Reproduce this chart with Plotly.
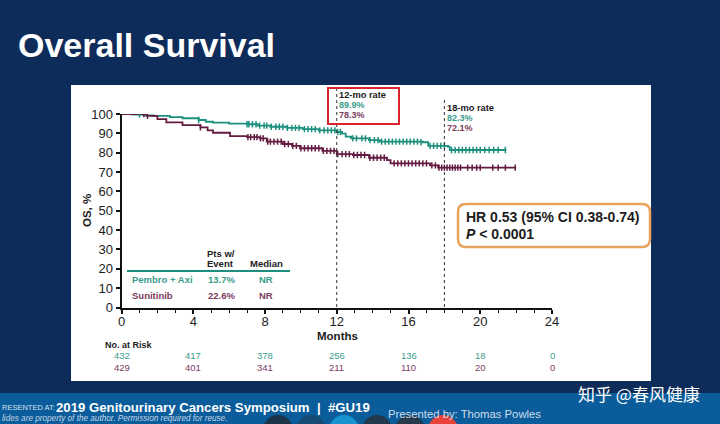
import plotly.graph_objects as go

W, H = 720, 424

# Kaplan-Meier steps
months_axi = [0, 0.6, 1.2, 1.8, 2.7, 3.4, 4.3, 4.7, 5.1, 6, 7, 7.6, 8.3, 9.2, 10.1, 11, 12, 12.3, 12.5, 12.8, 13.8, 14.4, 16.8, 17.1, 18.2, 18.3, 21.45]
os_axi = [100, 99.7, 99.3, 99, 98.4, 97.8, 96.9, 96, 95.5, 95, 94.7, 94, 93.4, 92.8, 92.2, 91.5, 90.7, 89.9, 88.3, 87.4, 86.5, 85.7, 85.4, 83.5, 83.1, 81.4, 81.4]
months_sun = [0, 1.4, 2, 2.5, 3.4, 4.4, 4.8, 5.1, 6.05, 7, 7.7, 8.1, 9, 9.5, 9.95, 11.2, 12, 12.9, 13.8, 14.8, 15, 17.2, 17.65, 22]
os_sun = [100, 99, 97.3, 95.7, 94.3, 93.1, 91.5, 90.3, 88.6, 88.1, 87.4, 85.7, 84.5, 83.5, 82.3, 80.9, 79.3, 78.8, 77.4, 76.2, 74.5, 73.5, 72.3, 72.3]

# censor ticks
cens_x_axi = [1.0, 4.3, 7.0, 7.1, 7.3, 7.5, 7.7, 7.95, 8.1, 8.35, 8.6, 8.8, 9.0, 9.25, 9.5, 9.7, 9.9, 10.2, 10.4, 10.6, 10.8, 11.05, 11.3, 11.5, 11.7, 11.9, 12.05, 12.2,
              12.9, 13.1, 13.4, 13.6, 13.85, 14.1, 14.3, 14.5, 14.7, 14.9, 15.1, 15.3, 15.5, 15.7, 15.9, 16.1, 16.3, 16.5, 16.7,
              17.2, 17.4, 17.6, 17.8, 18.0, 18.4, 18.6, 18.8, 19.0, 19.2, 19.4, 19.6, 19.8, 20.0, 20.25, 20.5, 20.75, 21.0, 21.4]
cens_y_axi = [99.7, 96.9, 94.7, 94.7, 94.7, 94.7, 94, 94, 94, 93.4, 93.4, 93.4, 93.4, 92.8, 92.8, 92.8, 92.8, 92.2, 92.2, 92.2, 92.2, 91.5, 91.5, 91.5, 91.5, 91.5, 90.7, 90.7,
              87.4, 87.4, 87.4, 87.4, 86.5, 86.5, 86.5, 85.7, 85.7, 85.7, 85.7, 85.7, 85.7, 85.7, 85.7, 85.7, 85.7, 85.7, 85.4,
              83.5, 83.5, 83.5, 83.5, 83.5, 81.4, 81.4, 81.4, 81.4, 81.4, 81.4, 81.4, 81.4, 81.4, 81.4, 81.4, 81.4, 81.4, 81.4]
cens_x_sun = [1.25, 1.45, 4.4, 7.05, 7.2, 7.4, 7.55, 7.75, 7.9, 8.15, 8.3, 8.5, 8.7, 8.9, 9.1, 9.3, 9.55, 9.75, 10.0, 10.2, 10.4, 10.6, 10.8, 11.0, 11.25, 11.45, 11.65, 11.85,
              12.05, 12.3, 12.5, 12.7, 12.95, 13.15, 13.35, 13.55, 13.85, 14.05, 14.25, 14.45, 14.65, 15.2, 15.4, 15.6, 15.8, 16.0, 16.2, 16.4, 16.6, 16.8, 17.0,
              17.3, 17.5, 17.7, 17.85, 18.0, 18.15, 18.3, 18.45, 18.6, 18.75, 18.9, 19.3, 19.55, 19.8, 20.0, 20.7, 21.0, 21.4, 21.95]
cens_y_sun = [100, 99, 93.1, 88.1, 88.1, 88.1, 88.1, 87.4, 87.4, 85.7, 85.7, 85.7, 85.7, 85.7, 84.5, 84.5, 83.5, 83.5, 82.3, 82.3, 82.3, 82.3, 82.3, 82.3, 80.9, 80.9, 80.9, 80.9,
              79.3, 79.3, 79.3, 79.3, 78.8, 78.8, 78.8, 78.8, 77.4, 77.4, 77.4, 77.4, 77.4, 74.5, 74.5, 74.5, 74.5, 74.5, 74.5, 74.5, 74.5, 74.5, 74.5,
              73.5, 73.5, 72.3, 72.3, 72.3, 72.3, 72.3, 72.3, 72.3, 72.3, 72.3, 72.3, 72.3, 72.3, 72.3, 72.3, 72.3, 72.3, 72.3]

risk_months = [0, 4, 8, 12, 16, 20, 24]
risk_axi = [432, 417, 378, 256, 136, 18, 0]
risk_sun = [429, 401, 341, 211, 110, 20, 0]

NAVY = "#0e2c5a"
TEAL = "#1c8f7e"
MAROON = "#641c42"
TEAL_TXT = "#3a9c8c"
MAROON_TXT = "#7b3c60"
INK = "#1c1c1c"
SANS = "Liberation Sans"


def px(x):
    return x / W


def py(y):
    return 1 - y / H


def label(x, y, text, size=9.5, color=INK, anchor="left", bold=False, family=SANS, angle=0):
    if bold:
        text = f"<b>{text}</b>"
    # annotation boxes carry about 2px of padding on the left
    if anchor == "left":
        x -= 2
    fig.add_annotation(x=px(x), y=py(y), xref="paper", yref="paper", text=text, showarrow=False, textangle=angle,
                       xanchor=anchor, yanchor="middle", font=dict(size=size, color=color, family=family))


def rect(x0, y0, x1, y1, fill, line=None, width=0):
    fig.add_shape(type="rect", xref="paper", yref="paper", x0=px(x0), x1=px(x1), y0=py(y0), y1=py(y1),
                  fillcolor=fill, line=dict(color=line, width=width), layer="below")


fig = go.Figure()

fig.add_trace(go.Scatter(x=months_axi, y=os_axi, mode="lines", line=dict(color=TEAL, width=1.8, shape="hv"), name="Pembro + Axi"))
fig.add_trace(go.Scatter(x=months_sun, y=os_sun, mode="lines", line=dict(color=MAROON, width=1.8, shape="hv"), name="Sunitinib"))
fig.add_trace(go.Scatter(x=cens_x_axi, y=cens_y_axi, mode="markers", marker=dict(symbol="line-ns", size=4.5, line=dict(color=TEAL, width=1.5)), name="Pembro + Axi censored"))
fig.add_trace(go.Scatter(x=cens_x_sun, y=cens_y_sun, mode="markers", marker=dict(symbol="line-ns", size=4.5, line=dict(color=MAROON, width=1.5)), name="Sunitinib censored"))

# slide background, white panel, footer
rect(0, 0, W, H, NAVY)
rect(71, 85, 651, 381, "white")
rect(0, 393, W, H, "#0a5c9b")
for cx, col in [(278, "#1d3349"), (311, "#164a72"), (344, "#1793d1"), (377, "#22384c"), (410, "#263a4c"), (443, "#e8423a")]:
    fig.add_shape(type="circle", xref="paper", yref="paper", x0=px(cx - 15), x1=px(cx + 15), y0=py(415), y1=py(445),
                  fillcolor=col, line=dict(width=0), layer="below")

# 12 and 18 month guides
fig.add_shape(type="line", xref="x", yref="paper", x0=12, x1=12, y0=py(307), y1=py(88), line=dict(color="#333333", width=1, dash="dot"))
fig.add_shape(type="line", xref="x", yref="paper", x0=18, x1=18, y0=py(307), y1=py(100), line=dict(color="#333333", width=1, dash="dot"))

# red highlight box
fig.add_shape(type="rect", xref="paper", yref="paper", x0=px(328), x1=px(399), y0=py(124), y1=py(88), line=dict(color="#d8232e", width=2))

# legend rule
fig.add_shape(type="line", xref="paper", yref="paper", x0=px(127), x1=px(290), y0=py(271), y1=py(271), line=dict(color=TEAL, width=2))

# HR box
x0, x1, y0, y1, r = px(458), px(650), py(247), py(204), 8
rx, ry = r / W, r / H
hr_path = (f"M {x0 + rx} {y1} L {x1 - rx} {y1} Q {x1} {y1} {x1} {y1 - ry} L {x1} {y0 + ry} Q {x1} {y0} {x1 - rx} {y0} "
           f"L {x0 + rx} {y0} Q {x0} {y0} {x0} {y0 + ry} L {x0} {y1 - ry} Q {x0} {y1} {x0 + rx} {y1} Z")
fig.add_shape(type="path", xref="paper", yref="paper", path=hr_path, fillcolor="white", line=dict(color="#e8a45c", width=2.5))

label(18, 45, "Overall Survival", size=34, color="white", bold=True)

label(339, 95, "12-mo rate", size=9.3, bold=True)
label(339, 105, "89.9%", size=9, color=TEAL_TXT, bold=True)
label(339, 115, "78.3%", size=9, color=MAROON_TXT, bold=True)
label(447, 108, "18-mo rate", size=9.3, bold=True)
label(447, 118, "82.3%", size=9, color=TEAL_TXT, bold=True)
label(447, 128, "72.1%", size=9, color=MAROON_TXT, bold=True)

label(466, 217, "HR 0.53 (95% CI 0.38-0.74)", size=14, bold=True)
label(466, 234, "<i>P</i> &lt; 0.0001", size=14, bold=True)

label(207, 253, "Pts w/", size=9.5, bold=True)
label(207, 263, "Event", size=9.5, bold=True)
label(250, 263, "Median", size=9.5, bold=True)
label(132, 279, "Pembro + Axi", size=9.5, color=TEAL_TXT, bold=True)
label(208, 279, "13.7%", size=9.5, color=TEAL_TXT, bold=True)
label(266, 279, "NR", size=9.5, color=TEAL_TXT, anchor="center", bold=True)
label(132, 295, "Sunitinib", size=9.5, color=MAROON_TXT, bold=True)
label(208, 295, "22.6%", size=9.5, color=MAROON_TXT, bold=True)
label(266, 295, "NR", size=9.5, color=MAROON_TXT, anchor="center", bold=True)

label(105, 345, "No. at Risk", size=9, bold=True)
for m, a, s in zip(risk_months, risk_axi, risk_sun):
    fig.add_annotation(x=m, y=py(355.5), xref="x", yref="paper", text=str(a), showarrow=False, yanchor="middle",
                       font=dict(size=9.5, color=TEAL_TXT, family=SANS))
    fig.add_annotation(x=m, y=py(367), xref="x", yref="paper", text=str(s), showarrow=False, yanchor="middle",
                       font=dict(size=9.5, color=MAROON_TXT, family=SANS))

# axis titles, placed by hand since the margins are fixed
label(337, 336, "Months", size=11.5, anchor="center", bold=True)
label(87, 211, "OS, %", size=11.5, anchor="center", bold=True, angle=-90)

# footer text
label(2, 407, "RESENTED AT:", size=7.5, color="#d5e3ef")
label(56, 407, "2019 Genitourinary Cancers Symposium  |  #GU19", size=13.2, color="white", bold=True)
label(2, 418.5, "<i>lides are property of the author. Permission required for reuse.</i>", size=8.2, color="#c5d6e6")
label(388, 414, "Presented by: Thomas Powles", size=11.3, color="#cfdde9")
label(578, 393, "知乎 @春风健康", size=17, color="white", family="Noto Sans CJK SC")

fig.update_layout(
    width=W, height=H, margin=dict(l=0, r=0, t=0, b=0, autoexpand=False), showlegend=False,
    paper_bgcolor=NAVY, plot_bgcolor="rgba(0,0,0,0)", font=dict(family=SANS, color=INK),
    xaxis=dict(domain=[px(121.5), px(552)], range=[0, 24], tickvals=risk_months, ticks="outside", ticklen=4, tickwidth=1.5,
               tickcolor="#111111", showline=True, linecolor="#111111", linewidth=2, showgrid=False, zeroline=False,
               ticklabelstandoff=-3, tickfont=dict(size=13, color=INK),
               minor=dict(dtick=1, ticks="outside", ticklen=3, tickcolor="#111111", tickwidth=1.2)),
    yaxis=dict(domain=[py(307.5), py(114)], range=[0, 100], dtick=10, ticks="outside", ticklen=4, tickwidth=1.5,
               tickcolor="#111111", showline=True, linecolor="#111111", linewidth=2, showgrid=False, zeroline=False,
               tickfont=dict(size=13, color=INK)),
)

fig.write_html("out.html", config=dict(displayModeBar=False),
               post_script="document.body.style.margin='0';document.body.style.overflow='hidden';")
